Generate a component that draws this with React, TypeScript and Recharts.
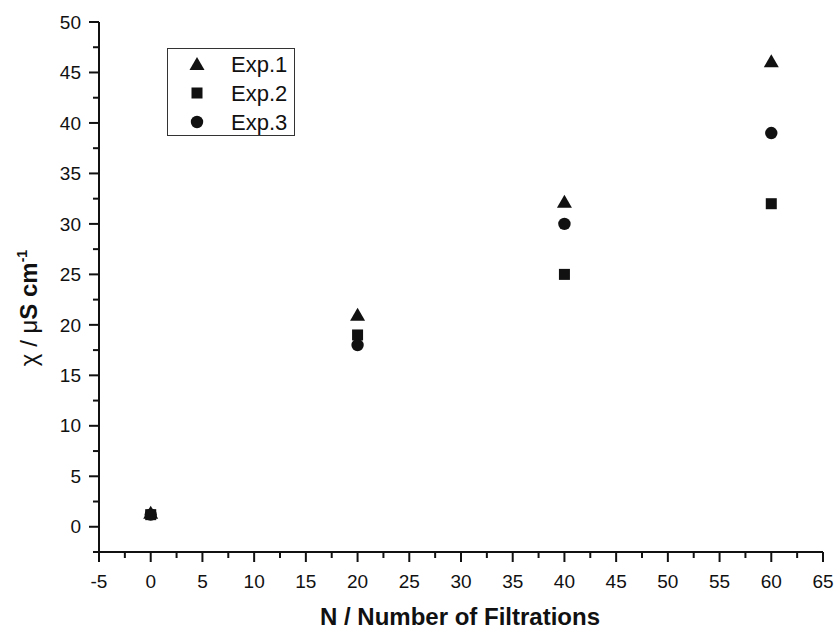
import { ScatterChart, Scatter, XAxis, YAxis, Legend, Label } from 'recharts';

// x = number of filtrations, y = conductivity (µS/cm)
const filtrations = [0, 20, 40, 60];
const exp1 = [1.4, 21, 32.2, 46.1];
const exp2 = [1.2, 19, 25, 32];
const exp3 = [1.2, 18, 30, 39];

const xMajor = [-5, 0, 5, 10, 15, 20, 25, 30, 35, 40, 45, 50, 55, 60, 65];
const yMajor = [0, 5, 10, 15, 20, 25, 30, 35, 40, 45, 50];

const seriesNames = ['Exp.1', 'Exp.2', 'Exp.3'];

const toPoints = (ys: number[]) => filtrations.map((x, i) => ({ x, y: ys[i] }));

// minor ticks halfway between the majors
const withMinor = (major: number[]) => {
  const out: number[] = [];
  major.forEach((v, i) => {
    out.push(v);
    if (i < major.length - 1) out.push((v + major[i + 1]) / 2);
  });
  return out;
};
const xTicks = withMinor(xMajor);
const yTicks = [-2.5, ...withMinor(yMajor)];

const FONT = '"Liberation Sans", Arial, sans-serif';
const INK = '#111';

const Triangle = ({ cx, cy }: any) => (
  <path d={`M${cx},${cy - 7} L${cx + 7.5},${cy + 6} L${cx - 7.5},${cy + 6} Z`} fill={INK} />
);
const Square = ({ cx, cy }: any) => <rect x={cx - 5.5} y={cy - 5.5} width={11} height={11} fill={INK} />;
const Dot = ({ cx, cy }: any) => <circle cx={cx} cy={cy} r={6.2} fill={INK} />;

const shapes = [Triangle, Square, Dot];

const XTick = ({ x, y, payload }: any) => {
  const v = payload.value;
  const major = xMajor.includes(v);
  return (
    <g>
      <line x1={x} x2={x} y1={y} y2={y + (major ? 10 : 6)} stroke={INK} strokeWidth={2} />
      {major && (
        <text x={x} y={y + 36} textAnchor="middle" fontSize={19} fontFamily={FONT} fill={INK}>
          {v}
        </text>
      )}
    </g>
  );
};

const YTick = ({ x, y, payload }: any) => {
  const v = payload.value;
  const major = yMajor.includes(v);
  return (
    <g>
      <line x1={x} x2={x - (major ? 10 : 6)} y1={y} y2={y} stroke={INK} strokeWidth={2} />
      {major && (
        <text x={x - 18} y={y} dy="0.35em" textAnchor="end" fontSize={19} fontFamily={FONT} fill={INK}>
          {v}
        </text>
      )}
    </g>
  );
};

const renderLegend = () => (
  <svg width={128} height={88} style={{ display: 'block' }}>
    <rect x={0.5} y={0.5} width={127} height={87} fill="#fff" stroke="#333" strokeWidth={1} />
    {seriesNames.map((name, i) => {
      const Shape = shapes[i];
      const cy = 16 + i * 29;
      return (
        <g key={name}>
          <Shape cx={30} cy={cy} />
          <text x={64} y={cy} dy="0.36em" fontSize={22} fontFamily={FONT} fill={INK}>
            {name}
          </text>
        </g>
      );
    })}
  </svg>
);

export default function App() {
  const data = [exp1, exp2, exp3];
  return (
    <div style={{ position: 'absolute', left: 0, top: 0, background: '#fff' }}>
      <ScatterChart width={836} height={631} margin={{ top: 22, right: 13, bottom: 0, left: 0 }}>
        <XAxis
          type="number"
          dataKey="x"
          domain={[-5, 65]}
          ticks={xTicks}
          interval={0}
          height={79}
          tickSize={0}
          tickMargin={0}
          tick={<XTick />}
          axisLine={{ stroke: INK, strokeWidth: 2 }}
        >
          <Label
            content={() => (
              <text x={460} y={625} textAnchor="middle" fontSize={24} fontWeight="bold" fontFamily={FONT} fill={INK}>
                N / Number of Filtrations
              </text>
            )}
          />
        </XAxis>
        <YAxis
          type="number"
          dataKey="y"
          domain={[-2.5, 50]}
          ticks={yTicks}
          interval={0}
          width={99}
          tickSize={0}
          tickMargin={0}
          tick={<YTick />}
          axisLine={{ stroke: INK, strokeWidth: 2 }}
        >
          <Label
            content={() => (
              <text
                x={0}
                y={0}
                transform="translate(37,308) rotate(-90)"
                textAnchor="middle"
                fontSize={24}
                fontFamily={FONT}
                fill={INK}
              >
                <tspan>χ / μ</tspan>
                <tspan fontWeight="bold">S cm</tspan>
                <tspan fontWeight="bold" fontSize={14} dy={-10}>
                  -1
                </tspan>
              </text>
            )}
          />
        </YAxis>
        <Legend
          layout="vertical"
          align="center"
          verticalAlign="middle"
          content={renderLegend}
          wrapperStyle={{ position: 'absolute', left: 167, top: 48, width: 128, height: 88 }}
        />
        {data.map((ys, i) => (
          <Scatter
            key={seriesNames[i]}
            name={seriesNames[i]}
            data={toPoints(ys)}
            shape={shapes[i]}
            isAnimationActive={false}
          />
        ))}
      </ScatterChart>
    </div>
  );
}
